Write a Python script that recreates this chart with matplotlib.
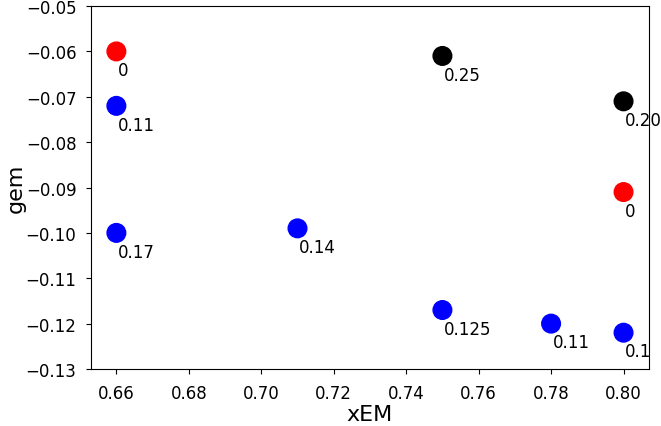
import matplotlib
matplotlib.use("Agg")
import matplotlib.pyplot as plt

# points
xem = [0.66, 0.66, 0.66, 0.71, 0.75, 0.80, 0.80, 0.75, 0.78, 0.80]
gem = [-0.060, -0.072, -0.100, -0.099, -0.061, -0.071, -0.091, -0.117, -0.120, -0.122]
colors = ["red", "blue", "blue", "blue", "black", "black", "red", "blue", "blue", "blue"]
labels = ["0", "0.11", "0.17", "0.14", "0.25", "0.20", "0", "0.125", "0.11", "0.1"]

fig = plt.figure(figsize=(6.61, 4.27), dpi=100)
ax = fig.add_axes([0.1377, 0.1335, 0.844, 0.850])

ax.scatter(xem, gem, c=colors, s=180, zorder=3)
for x, y, t in zip(xem, gem, labels):
    ax.annotate(t, (x, y), xytext=(1, -7), textcoords="offset points",
                fontsize=12, va="top", ha="left")

ax.set_ylim(-0.13, -0.05)
ax.set_xticks([0.66, 0.68, 0.70, 0.72, 0.74, 0.76, 0.78, 0.80])
ax.tick_params(labelsize=12, pad=7)
ax.set_xlabel("xEM", fontsize=16, labelpad=2)
ax.set_ylabel("gem", fontsize=16, labelpad=0)

fig.savefig("out.png", dpi=100)
